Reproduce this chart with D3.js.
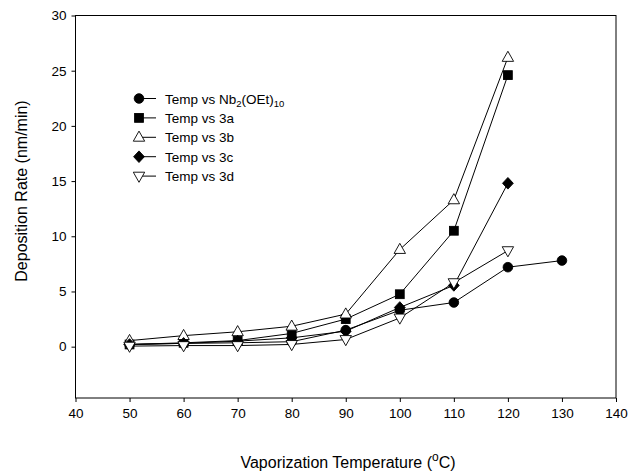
<!DOCTYPE html>
<html>
<head>
<meta charset="utf-8">
<script src="https://cdn.jsdelivr.net/npm/d3@7/dist/d3.min.js"></script>
<style>
  html, body { margin: 0; padding: 0; background: #fff; }
  svg { display: block; font-family: "Liberation Sans", Arial, sans-serif; }
</style>
</head>
<body>
<svg id="chart" width="629" height="474"></svg>
<script>
// Deposition rate versus vaporization temperature for each precursor
const temps = [50, 60, 70, 80, 90, 100, 110, 120, 130];
const nbValues = [0.2, 0.3, 0.35, 0.45, 1.5, 3.3, 4.0, 7.2, 7.8];
const s3aValues = [0.2, 0.35, 0.55, 1.2, 2.5, 4.75, 10.5, 24.6];
const s3bValues = [0.55, 1.0, 1.35, 1.85, 2.95, 8.8, 13.3, 26.2];
const s3cValues = [0.2, 0.3, 0.5, 0.8, 1.4, 3.55, 5.55, 14.8];
const s3dValues = [0.05, 0.1, 0.1, 0.2, 0.65, 2.6, 5.8, 8.7];
const seriesNames = ["Nb", "3a", "3b", "3c", "3d"];
const xTicks = [40, 50, 60, 70, 80, 90, 100, 110, 120, 130, 140];
const yTicks = [0, 5, 10, 15, 20, 25, 30];

const series = [
  { name: seriesNames[0], values: nbValues, symbol: "circle", fill: "#000" },
  { name: seriesNames[1], values: s3aValues, symbol: "square", fill: "#000" },
  { name: seriesNames[2], values: s3bValues, symbol: "triUp", fill: "#fff" },
  { name: seriesNames[3], values: s3cValues, symbol: "diamond", fill: "#000" },
  { name: seriesNames[4], values: s3dValues, symbol: "triDown", fill: "#fff" }
];

const svg = d3.select("#chart");
const plotLeft = 75.5, plotRight = 616, plotTop = 15.5, plotBottom = 398;

const x = d3.scaleLinear().domain([40, 140]).range([plotLeft, plotRight]);
const y = d3.scaleLinear().domain([-4.65, 30]).range([plotBottom, plotTop]);

// Frame
svg.append("rect")
  .attr("x", plotLeft).attr("y", plotTop)
  .attr("width", plotRight - plotLeft).attr("height", plotBottom - plotTop)
  .attr("fill", "none").attr("stroke", "#000").attr("stroke-width", 1);

// Axes
const xAxis = d3.axisBottom(x).tickValues(xTicks).tickSize(4).tickPadding(6).tickFormat(d3.format("d"));
const yAxis = d3.axisLeft(y).tickValues(yTicks).tickSize(4).tickPadding(5).tickFormat(d3.format("d"));

const gx = svg.append("g").attr("transform", `translate(0,${plotBottom})`).call(xAxis);
const gy = svg.append("g").attr("transform", `translate(${plotLeft},0)`).call(yAxis);
[gx, gy].forEach(g => {
  g.select(".domain").remove();
  g.selectAll("line").attr("stroke", "#000");
  g.selectAll("text").attr("fill", "#000").style("font-size", "13.5px")
    .style("font-family", "'Liberation Sans', Arial, sans-serif");
});

// Axis titles
svg.append("text")
  .attr("transform", `translate(27,191) rotate(-90)`)
  .attr("text-anchor", "middle")
  .style("font-size", "16px")
  .text("Deposition Rate (nm/min)");

const xt = svg.append("text")
  .attr("x", 348).attr("y", 468)
  .attr("text-anchor", "middle")
  .style("font-size", "16px");
xt.append("tspan").text("Vaporization Temperature (");
xt.append("tspan").attr("dy", -7).style("font-size", "12px").text("o");
xt.append("tspan").attr("dy", 7).text("C)");

// Marker shapes
function drawMarker(g, sym, cx, cy, fill) {
  let el;
  if (sym === "circle") {
    el = g.append("circle").attr("cx", cx).attr("cy", cy).attr("r", 4.8);
  } else if (sym === "square") {
    el = g.append("rect").attr("x", cx - 4.4).attr("y", cy - 4.4).attr("width", 8.8).attr("height", 8.8);
  } else if (sym === "diamond") {
    el = g.append("path").attr("d", `M${cx},${cy - 5.8}L${cx + 5.4},${cy}L${cx},${cy + 5.8}L${cx - 5.4},${cy}Z`);
  } else if (sym === "triUp") {
    el = g.append("path").attr("d", `M${cx},${cy - 6.2}L${cx + 5.7},${cy + 3.9}L${cx - 5.7},${cy + 3.9}Z`);
  } else {
    el = g.append("path").attr("d", `M${cx},${cy + 6.2}L${cx + 5.7},${cy - 3.9}L${cx - 5.7},${cy - 3.9}Z`);
  }
  el.attr("fill", fill).attr("stroke", "#000").attr("stroke-width", 0.9);
}

const line = d3.line().x(d => x(d[0])).y(d => y(d[1]));

series.forEach(s => {
  const pts = s.values.map((v, i) => [temps[i], v]);
  const g = svg.append("g");
  g.append("path").attr("d", line(pts)).attr("fill", "none").attr("stroke", "#000").attr("stroke-width", 1);
  pts.forEach(p => drawMarker(g, s.symbol, x(p[0]), y(p[1]), s.fill));
});

// Legend
const legendLabels = [
  ["Temp vs Nb", "2", "(OEt)", "10"],
  ["Temp vs 3a"], ["Temp vs 3b"], ["Temp vs 3c"], ["Temp vs 3d"]
];
series.forEach((s, i) => {
  const ly = 98.5 + i * 19.4;
  const g = svg.append("g");
  g.append("line").attr("x1", 139).attr("x2", 156).attr("y1", ly).attr("y2", ly)
    .attr("stroke", "#000").attr("stroke-width", 1);
  drawMarker(g, s.symbol, 139, ly, s.fill);
  const t = g.append("text").attr("x", 165).attr("y", ly + 5).style("font-size", "13.5px");
  const parts = legendLabels[i];
  t.append("tspan").text(parts[0]);
  if (parts.length > 1) {
    t.append("tspan").attr("dy", 3).style("font-size", "9.5px").text(parts[1]);
    t.append("tspan").attr("dy", -3).text(parts[2]);
    t.append("tspan").attr("dy", 3).style("font-size", "9.5px").text(parts[3]);
  }
});
</script>
</body>
</html>
